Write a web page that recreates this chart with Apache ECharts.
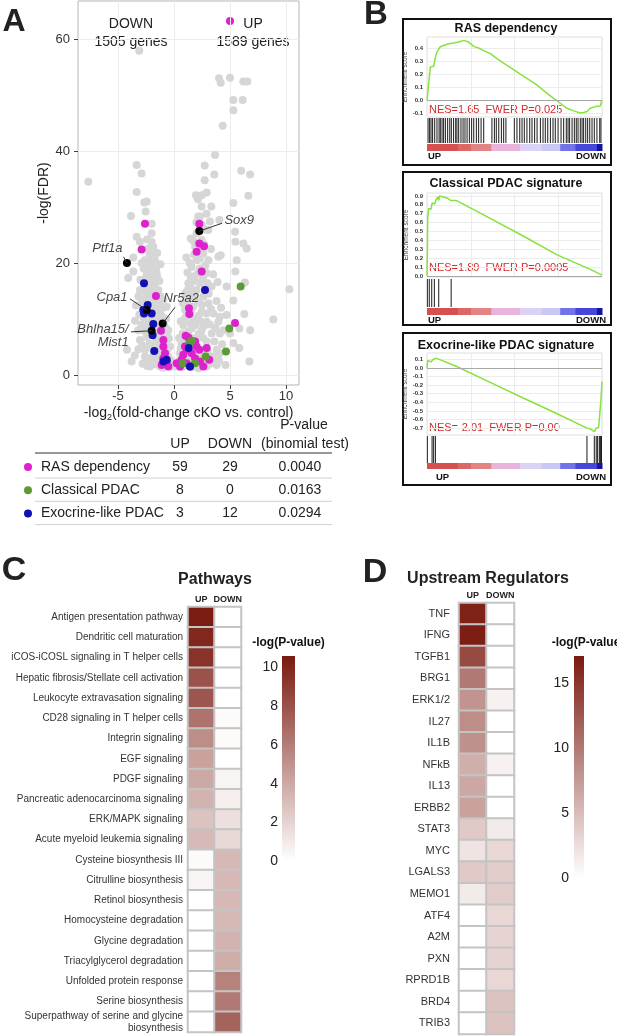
<!DOCTYPE html>
<html>
<head>
<meta charset="utf-8">
<script src="https://cdn.jsdelivr.net/npm/echarts@6/dist/echarts.min.js"></script>
<style>
html, body { margin: 0; padding: 0; background: #fff; }
#fig { width: 617px; height: 1036px; }
</style>
</head>
<body>
<div id="fig"></div>
<script>
var FONT = 'Arial, "Liberation Sans", sans-serif';

// ---------- A: volcano (x = -log2 fold change, y = -log FDR) ----------
var grayPts = [
  [-3.1,57.9],[4.02,53.0],[4.17,52.2],[5.0,53.1],[6.19,52.4],[6.55,52.4],[5.3,49.1],[6.13,49.1],[5.3,47.3],[4.35,44.5],
  [3.66,39.3],[2.74,37.4],[3.6,35.8],[6.0,36.5],[6.79,35.8],[2.74,34.8],[2.92,32.6],[2.47,32.1],[2.14,31.4],[3.33,30.1],
  [2.47,30.1],[5.3,30.7],[6.64,32.0],[5.45,25.6],[3.21,27.4],[2.32,28.3],[3.07,25.9],[4.05,27.7],[6.49,22.6],[5.48,23.8],
  [6.19,23.5],[3.96,21.1],[4.17,21.4],[5.6,20.5],[5.48,18.5],[4.7,15.8],[6.34,16.5],[5.3,13.3],[6.28,10.9],[4.7,10.7],
  [4.1,10.4],[3.96,9.5],[4.4,8.0],[4.1,7.4],[5.0,7.4],[5.83,8.3],[5.83,4.8],[6.73,2.4],[5.3,5.7],[10.3,15.3],[8.87,9.9],[6.8,8.0],
  [-7.65,34.5],[-3.33,37.5],[-2.89,36.0],[-3.33,32.7],[-2.65,30.8],[-2.44,31.0],[-2.53,29.2],[-3.84,28.4],[-1.99,27.0],
  [-3.33,24.7],[-3.04,23.8],[-3.63,21.0],[-4.08,17.3],[-3.63,18.5],[-1.99,25.3],[-1.85,22.9],[-3.48,9.7],[-3.18,4.6],
  [-2.44,3.0],[-1.99,5.4],[-2.44,8.9],
  [-2.29,22.6],[-2.14,21.1],[-1.99,19.9],[-2.29,19.3],[-1.85,18.8],[-2.44,17.9],[-1.99,17.3],[-1.70,16.4],[-2.59,15.8],
  [-2.14,14.9],[-1.55,14.6],[-3.04,15.2],[-2.44,13.7],[-1.85,13.1],[-1.40,12.5],[-2.74,11.6],[-1.25,11.0],[-1.55,9.8],
  [-0.95,9.8],[-1.99,8.3],[-1.25,8.0],[-0.65,7.4],[-2.44,6.8],[-1.55,6.25],[-0.80,5.65],[-1.85,4.5],[-1.10,3.9],[-0.51,3.3],
  [-1.55,2.7],[-0.80,2.1],[-0.21,1.5],[-1.25,1.5],[-2.59,4.5],[-3.04,6.25],[-2.29,9.8],[-1.85,11.6],[-2.74,13.4],[-3.18,14.0],
  [-1.55,18.2],[-1.70,20.5],[-2.2,21.7],[-1.4,15.2],[-0.95,13.4],[-0.65,12.2],[-0.51,8.0],[-0.36,5.1],[-2.14,1.5],[-4.2,4.5],[-3.78,2.4],
  [-2.6,20.5],[-2.0,21.5],[-1.6,19.0],[-2.3,16.8],[-1.8,15.5],[-2.0,13.8],[-1.6,12.0],[-2.3,12.3],[-1.1,10.5],[-1.8,10.0],
  [-1.3,9.0],[-2.1,9.2],[-0.8,8.6],[-1.7,7.3],[-1.0,6.9],[-2.2,5.6],[-1.3,5.2],[-0.6,4.6],[-1.6,3.6],[-0.9,3.0],[-2.0,2.4],
  [-1.0,1.3],[-0.5,2.0],[-2.8,2.0],[-3.5,3.5],[-2.9,9.0],[-2.6,7.8],[-3.4,12.4],[-3.0,17.0],[-2.7,19.0],[-2.4,24.2],[-2.0,23.8],[-1.5,21.8],
  [-2.5,14.5],[-1.9,14.4],[-2.2,10.8],[-1.4,13.6],[-1.2,6.0],[-0.7,3.6],[-1.4,4.4],[-2.7,10.2],[-1.9,3.3],[-0.3,2.6],
  [-1.7,1.9],[-2.4,1.6],[-3.2,8.0],[-2.85,5.3],[-2.0,18.4],[-2.6,17.0],[-2.9,20.0],[-1.3,16.8],[-1.2,19.8],
  [-2.1,16.1],[-1.5,17.5],[-2.4,19.9],[-1.2,14.0],[-1.0,12.0],[-0.7,10.0],[-0.45,6.5],[-2.6,3.3],[-2.9,13.0],[-3.1,10.8],
  [2.17,28.3],[2.32,26.5],[2.02,25.3],[2.47,24.1],[1.88,22.9],[2.62,21.7],[2.02,20.5],[1.58,19.3],[2.32,19.0],[2.92,18.2],
  [1.73,17.6],[1.28,16.4],[2.32,16.4],[3.36,15.8],[2.02,15.2],[1.58,14.6],[2.62,14.0],[1.13,13.4],[2.17,13.1],[3.07,12.8],
  [1.73,12.2],[0.98,11.6],[2.47,11.3],[3.51,11.0],[1.43,10.4],[2.02,9.8],[2.92,9.5],[0.83,8.9],[1.58,8.3],[2.47,8.0],
  [3.36,7.4],[1.13,7.1],[2.02,6.5],[2.92,6.0],[0.68,5.65],[1.58,5.1],[2.62,4.5],[3.81,4.5],[0.54,3.9],[1.28,3.6],[2.32,3.0],
  [3.36,2.7],[0.39,2.1],[1.13,1.8],[2.02,1.5],[2.92,1.5],[3.81,1.8],[0.24,1.5],[3.51,3.3],[4.1,3.9],[2.77,15.2],[3.07,20.5],
  [1.43,15.8],[0.77,7.4],[1.96,32.1],
  [1.0,10.2],[1.3,12.7],[1.8,13.9],[2.5,12.5],[1.5,11.3],[2.2,10.6],[1.9,8.9],[2.7,8.8],[1.3,7.8],[2.2,7.3],[1.6,6.6],
  [0.9,6.2],[2.6,6.6],[1.9,5.8],[1.2,4.7],[2.2,4.4],[3.0,4.2],[1.7,3.5],[2.7,3.4],[0.8,3.0],[1.5,2.5],[2.5,2.3],[3.2,2.0],
  [1.6,1.4],[0.7,1.4],[1.0,14.6],[1.9,16.8],[2.6,17.3],[1.2,18.3],[2.3,20.8],[1.8,21.5],[2.7,23.3],[1.5,24.4],[2.0,27.3],
  [2.8,26.0],[3.3,22.5],[3.5,18.0],[3.2,9.0],[3.6,6.0],[4.3,5.5],[4.0,2.6],[4.6,1.8],
  [0.5,2.6],[1.0,2.9],[1.8,2.2],[2.2,1.2],[2.9,2.8],[1.4,9.4],[2.4,9.5],[0.6,4.8],[1.7,10.0],[2.9,11.0],[3.1,14.5],
  [1.5,17.2],[2.1,18.1],[1.1,21.0],[2.5,26.8],[2.9,28.8],[3.8,13.2],[3.9,16.6],
  [1.4,20.0],[1.7,24.0],[2.4,22.6],[2.8,19.6],[3.0,16.4],[1.2,15.2],[0.8,12.8],[0.6,9.6],[3.3,11.8],[3.7,8.4],[0.45,6.6],[4.2,12.0]
];
var rasPts = [
  [-2.59,27.0],[-2.89,22.4],[-1.61,14.1],[-1.16,7.9],[-0.95,6.25],[-0.95,5.1],[-0.80,3.9],[-0.95,3.0],[-0.65,2.4],[-0.51,1.5],
  [-1.10,1.8],[2.26,27.0],[2.26,23.5],[2.68,23.0],[2.02,22.0],[2.47,18.5],[1.34,11.9],[1.37,10.9],[1.04,7.0],[1.28,6.7],
  [2.02,5.1],[2.26,4.5],[2.92,4.8],[3.15,2.7],[5.45,9.3],[1.13,4.5],[0.83,3.6],[0.68,2.7],[1.13,2.1],[1.58,3.9],[1.88,3.0],
  [2.32,2.4],[0.54,1.5],[1.43,1.5],[2.62,1.5],[0.24,2.1],[0.98,5.1],[1.88,6.0]
];
var classicalPts = [[5.95,15.8],[4.94,8.3],[4.64,4.2],[2.83,3.3],[1.88,2.1],[0.77,2.1],[1.37,5.65],[1.58,6.1]];
var exocrinePts = [
  [-2.68,16.4],[-2.35,12.5],[-2.68,11.0],[-1.99,11.0],[-1.85,9.1],[-1.91,7.1],[-1.76,4.3],[-0.95,2.4],[-0.65,2.7],
  [2.77,15.2],[1.43,1.5],[1.31,4.8],[-2.74,11.6]
];
var markedGenes = ['Ptf1a', 'Cpa1', 'Nr5a2', 'Bhlha15/\nMist1', 'Sox9'];
var markedPts = [[-4.2,20.0],[-2.44,11.6],[-1.01,9.2],[-1.99,7.9],[2.26,25.7]];
var markedLeaderFrom = [[-4.5,21.1],[-3.93,13.6],[0.09,12.1],[-3.84,7.7],[4.29,27.1]];
var markedLabelAt = [[-4.55,22.7],[-4.1,13.9],[-0.98,13.75],[-4.0,7.0],[4.46,27.7]];
var markedLabelSide = ['left', 'left', 'right', 'left', 'right'];
var volcanoXTicks = [-5, 0, 5, 10];
var volcanoYTicks = [0, 20, 40, 60];

// table under the volcano
var tableSets = ['RAS dependency', 'Classical PDAC', 'Exocrine-like PDAC'];
var tableUp = [59, 8, 3];
var tableDown = [29, 0, 12];
var tablePval = ['0.0040', '0.0163', '0.0294'];
var setColors = ['#dd22cc', '#5e9a34', '#1212b4'];

// ---------- B: GSEA running enrichment scores (x = rank percentile) ----------
var rasCurve = [[0,0],[0.95,0.127],[1.9,0.255],[2.9,0.267],[3.8,0.26],[4.8,0.33],[5.7,0.37],[7.6,0.41],[9.5,0.42],
  [12.4,0.433],[15.2,0.438],[18.1,0.446],[21,0.459],[23.8,0.446],[26.7,0.413],[29.5,0.4],[32.4,0.38],[36.2,0.357],
  [40,0.318],[45.7,0.267],[51.4,0.217],[57.1,0.166],[62.9,0.115],[68.6,0.051],[72.4,0.013],[76.2,-0.025],[80,-0.064],
  [83.8,-0.084],[87.6,-0.1],[89.5,-0.097],[91.4,-0.089],[93.3,-0.064],[96.2,-0.051],[99,-0.046],[100,0]];
var rasHits = [0.6,1.5,2.3,3.2,4.4,5.7,6.9,7.6,8.6,9.5,10.5,11.8,13,13.9,15.2,16.4,17.1,18.1,19.4,20.6,21.7,22.9,
  24.2,25.5,26.7,28.2,29.5,30.9,32.4,37.1,38.5,39.6,41,42.5,43.8,45.1,49.9,51.4,53,54.3,55.6,57.1,58.7,60,61.5,62.9,
  64.8,66.3,67.6,69,70.5,72,73.3,74.9,76.6,78.1,79.6,80.6,81.5,82.9,84.2,85.3,86.3,87.6,88.6,89.5,90.7,91.8,93,94.3,
  95.6,97.1,98.7,99.4];
var classicalCurve = [[0,0],[0.2,0.255],[0.4,0.65],[1,0.76],[1.7,0.78],[2.3,0.75],[2.9,0.82],[3.6,0.835],[4.4,0.81],
  [5.2,0.86],[6.1,0.885],[6.7,0.85],[7.1,0.9],[9,0.89],[11.9,0.874],[13.4,0.85],[14,0.866],[16.7,0.85],[35.8,0.65],
  [55,0.45],[74.1,0.24],[93.3,0.075],[100,0.01]];
var classicalHits = [0.2, 1.3, 2.7, 4.2, 6.7, 13.8];
var exoCurve = [[0,0],[0.4,0.088],[1.3,0.08],[2.3,0.07],[2.9,0.072],[3.3,0.096],[4.2,0.085],[5.2,0.115],[5.6,0.127],
  [16.7,0.02],[35.8,-0.165],[55,-0.35],[74.1,-0.53],[91.4,-0.70],[93.3,-0.71],[94.3,-0.70],[95.6,-0.74],[96.7,-0.70],
  [98.1,-0.69],[99,-0.70],[99.4,-0.37],[100,-0.16]];
var exoHits = [0.2, 2.9, 3.8, 4.8, 91.4, 95.6, 96.7, 97.5, 98.5, 99.2, 99.7];
var rankBand = [[0,17.6,0],[17.6,25.3,1],[25.3,36.8,2],[36.8,53.1,3],[53.1,65.5,4],[65.5,76.1,5],[76.1,84.7,6],[84.7,97.1,7],[97.1,100,8]];
var bandColors = ['#d65050', '#dc6767', '#e08484', '#e8b4dc', '#dcd2f4', '#c8c8f4', '#7272ea', '#4646da', '#1414a0'];
var gseaTitles = ['RAS dependency', 'Classical PDAC signature', 'Exocrine-like PDAC signature'];
var gseaNes = ['1.65', '1.89', '-2.01'];
var gseaFwer = ['0.025', '0.0005', '0.00'];
var gseaTicks = [[-0.1,0,0.1,0.2,0.3,0.4], [0,0.1,0.2,0.3,0.4,0.5,0.6,0.7,0.8,0.9], [-0.7,-0.6,-0.5,-0.4,-0.3,-0.2,-0.1,0,0.1]];

// ---------- C / D: -log(P) heatmaps ----------
var pathways = ['Antigen presentation pathway', 'Dendritic cell maturation', 'iCOS-iCOSL signaling in T helper cells',
  'Hepatic fibrosis/Stellate cell activation', 'Leukocyte extravasation signaling', 'CD28 signaling in T helper cells',
  'Integrin signaling', 'EGF signaling', 'PDGF signaling', 'Pancreatic adenocarcinoma signaling', 'ERK/MAPK signaling',
  'Acute myeloid leukemia signaling', 'Cysteine biosynthesis III', 'Citrulline biosynthesis', 'Retinol biosynthesis',
  'Homocysteine degradation', 'Glycine degradation', 'Triacylglycerol degradation', 'Unfolded protein response',
  'Serine biosynthesis', 'Superpathway of serine and glycine\nbiosynthesis'];
var pathwayUp =   [10.5, 10.0, 9.5, 8.0, 7.8, 6.5, 5.3, 4.3, 4.0, 3.5, 2.8, 3.2, 0.2, 0.5, 0, 0, 0, 0, 0, 0, 0];
var pathwayDown = [0, 0, 0, 0, 0, 0.2, 0.2, 0, 0.5, 0.8, 1.5, 1.8, 3.3, 3.3, 3.3, 3.3, 3.5, 3.8, 5.8, 6.2, 7.2];
var pathwayTicks = [0, 2, 4, 6, 8, 10];
var regulators = ['TNF', 'IFNG', 'TGFB1', 'BRG1', 'ERK1/2', 'IL27', 'IL1B', 'NFkB', 'IL13', 'ERBB2', 'STAT3', 'MYC',
  'LGALS3', 'MEMO1', 'ATF4', 'A2M', 'PXN', 'RPRD1B', 'BRD4', 'TRIB3'];
var regulatorUp =   [16.5, 16.8, 13.5, 10.0, 8.0, 8.5, 8.2, 6.0, 6.5, 7.0, 4.0, 2.0, 4.0, 1.5, 0, 0, 0, 0, 0, 0];
var regulatorDown = [0, 0, 0, 0, 1.0, 0, 0, 1.0, 0, 0, 1.5, 3.0, 3.8, 3.8, 3.0, 3.2, 3.3, 3.0, 4.5, 4.5];
var regulatorTicks = [0, 5, 10, 15];
var heatCols = ['UP', 'DOWN'];

var HEAT_LO = '#ffffff', HEAT_HI = '#7a1a10';

// ---------- layout ----------
var grids = [], xAxes = [], yAxes = [], series = [], graphics = [];

function txt(x, y, s, o) {
  o = o || {};
  var el = {
    type: 'text', x: x, y: y, silent: true,
    style: {
      text: s, fontFamily: FONT, fontSize: o.size || 12, fontWeight: o.weight || 'normal',
      fontStyle: o.italic ? 'italic' : 'normal', fill: o.color || '#222',
      align: o.align || 'center', verticalAlign: 'middle', rich: o.rich
    }
  };
  graphics.push(el);
  return el;
}
var italicRich = { i: { fontStyle: 'italic' } };

// volcano grid 0
grids.push({ left: 78, top: 1, width: 221, height: 384, show: true, borderColor: '#b5b5b5', borderWidth: 1, backgroundColor: '#fff' });
xAxes.push({
  type: 'value', gridIndex: 0, min: -8.57, max: 11.16,
  axisLine: { show: false, onZero: false },
  axisTick: { show: true, customValues: volcanoXTicks, length: 4, lineStyle: { color: '#444' } },
  axisLabel: { customValues: volcanoXTicks, fontSize: 13, color: '#333', margin: 5, fontFamily: FONT },
  splitLine: { show: true, lineStyle: { color: '#ececec' } },
  name: '-log{s|2}(fold-change cKO vs. control)', nameLocation: 'middle', nameGap: 16,
  nameTextStyle: { fontSize: 14, color: '#222', fontFamily: FONT, lineHeight: 18,
    rich: { s: { fontSize: 9, verticalAlign: 'bottom', lineHeight: 14 } } }
});
yAxes.push({
  type: 'value', gridIndex: 0, min: -1.79, max: 66.8,
  axisLine: { show: false, onZero: false },
  axisTick: { show: true, customValues: volcanoYTicks, length: 4, lineStyle: { color: '#444' } },
  axisLabel: { customValues: volcanoYTicks, fontSize: 13, color: '#333', margin: 8, fontFamily: FONT },
  splitLine: { show: true, lineStyle: { color: '#ececec' } },
  name: '-log(FDR)', nameLocation: 'middle', nameGap: 21, nameRotate: 90,
  nameTextStyle: { fontSize: 14, color: '#222', fontFamily: FONT }
});
function dots(data, color, z) {
  series.push({ type: 'scatter', xAxisIndex: 0, yAxisIndex: 0, data: data, symbolSize: 8, silent: true, z: z,
    itemStyle: { color: color, opacity: 1 } });
}
dots(grayPts, '#d6d6d6', 2);
dots(rasPts, setColors[0], 3);
dots(classicalPts, setColors[1], 3);
dots(exocrinePts, setColors[2], 3);
dots(markedPts, '#000000', 4);
series.push({
  type: 'lines', coordinateSystem: 'cartesian2d', xAxisIndex: 0, yAxisIndex: 0, silent: true, z: 5,
  lineStyle: { color: '#333', width: 1, opacity: 1 },
  data: markedPts.map(function (p, i) { return { coords: [markedLeaderFrom[i], p] }; })
});
series.push({
  type: 'scatter', xAxisIndex: 0, yAxisIndex: 0, silent: true, z: 6, symbolSize: 1,
  itemStyle: { color: 'rgba(0,0,0,0)' },
  label: { show: true, formatter: '{b}', fontSize: 13, fontStyle: 'italic', color: '#111', fontFamily: FONT, distance: 0, lineHeight: 13 },
  data: markedLabelAt.map(function (p, i) {
    return { name: markedGenes[i], value: p, label: { position: markedLabelSide[i] } };
  })
});

// volcano header text
txt(131, 24, 'DOWN', { size: 14 });
txt(131, 42, '1505 genes', { size: 14 });
graphics.push({ type: 'circle', silent: true, shape: { cx: 230, cy: 21, r: 4 }, style: { fill: setColors[0] } });
txt(253, 24, 'UP', { size: 14 });
txt(253, 42, '1589 genes', { size: 14 });

// table
txt(304, 425, '{i|P}-value', { size: 14, rich: italicRich });
txt(180, 444, 'UP', { size: 14 });
txt(230, 444, 'DOWN', { size: 14 });
txt(305, 444, '(binomial test)', { size: 14 });
graphics.push({ type: 'line', silent: true, shape: { x1: 35, y1: 453, x2: 332, y2: 453 }, style: { stroke: '#333', lineWidth: 1.2 } });
tableSets.forEach(function (name, i) {
  var y = 467 + i * 23.3;
  graphics.push({ type: 'circle', silent: true, shape: { cx: 28, cy: y, r: 4 }, style: { fill: setColors[i] } });
  txt(41, y, name, { size: 14, align: 'left' });
  txt(180, y, String(tableUp[i]), { size: 14 });
  txt(230, y, String(tableDown[i]), { size: 14 });
  txt(300, y, tablePval[i], { size: 14 });
  graphics.push({ type: 'line', silent: true, shape: { x1: 35, y1: y + 11, x2: 332, y2: y + 11 }, style: { stroke: '#d0d0d0', lineWidth: 1 } });
});

// GSEA panels
var gseaLayout = [
  { box: [403, 19, 208, 146], title: 29, es: [37, 80], yr: [-0.131, 0.485], code: [118, 25], band: [144, 7], lab: 156, nes: 110 },
  { box: [403, 172, 208, 153], title: 184, es: [193, 84], yr: [-0.011, 0.933], code: [279, 28], band: [308, 7], lab: 320, nes: 268 },
  { box: [403, 333, 208, 152], title: 346, es: [353, 82], yr: [-0.78, 0.174], code: [436, 27], band: [463, 6], lab: 477, nes: 428 }
];
var gseaCurves = [rasCurve, classicalCurve, exoCurve];
var gseaHits = [rasHits, classicalHits, exoHits];
var GX = 427, GW = 175;

gseaLayout.forEach(function (L, p) {
  var gi = grids.length;
  // enrichment score
  grids.push({ left: GX, width: GW, top: L.es[0], height: L.es[1], show: true, borderColor: '#dedede', borderWidth: 1 });
  xAxes.push({ type: 'value', gridIndex: gi, min: 0, max: 100, interval: 25,
    axisLine: { show: false }, axisTick: { show: false }, axisLabel: { show: false },
    splitLine: { show: true, lineStyle: { color: '#ececec' } } });
  yAxes.push({ type: 'value', gridIndex: gi, min: L.yr[0], max: L.yr[1],
    axisLine: { show: false, onZero: false }, axisTick: { show: false, customValues: gseaTicks[p] },
    axisLabel: { customValues: gseaTicks[p], fontSize: 6, fontWeight: 'bold', color: '#333', margin: 4, fontFamily: FONT,
      formatter: function (v) { return v.toFixed(1); } },
    splitLine: { show: true, lineStyle: { color: '#ececec' } },
    name: 'Enrichment score', nameLocation: 'middle', nameGap: 17, nameRotate: 90,
    nameTextStyle: { fontSize: 6.5, color: '#444', fontFamily: FONT } });
  series.push({ type: 'line', xAxisIndex: gi, yAxisIndex: gi, data: gseaCurves[p], showSymbol: false, silent: true, z: 3,
    lineStyle: { color: '#86e33c', width: 1.5 },
    markLine: { silent: true, symbol: 'none', label: { show: false }, lineStyle: { color: '#a8a8a8', width: 1, type: 'solid' },
      data: [{ yAxis: 0 }] } });
  // barcode of gene-set hits
  grids.push({ left: GX, width: GW, top: L.code[0], height: L.code[1] });
  xAxes.push({ type: 'value', gridIndex: gi + 1, min: 0, max: 100, show: false });
  yAxes.push({ type: 'value', gridIndex: gi + 1, min: 0, max: 1, show: false });
  series.push({ type: 'scatter', xAxisIndex: gi + 1, yAxisIndex: gi + 1, silent: true, symbol: 'rect',
    symbolSize: [1, L.code[1]], itemStyle: { color: '#1a1a1a', opacity: 1 },
    data: gseaHits[p].map(function (h) { return [h, 0.5]; }) });
  // ranked-list colour band
  grids.push({ left: GX, width: GW, top: L.band[0], height: L.band[1] });
  xAxes.push({ type: 'value', gridIndex: gi + 2, min: 0, max: 100, show: false });
  yAxes.push({ type: 'value', gridIndex: gi + 2, min: 0, max: 1, show: false });
  series.push({ type: 'custom', xAxisIndex: gi + 2, yAxisIndex: gi + 2, silent: true, data: rankBand,
    renderItem: function (params, api) {
      var s = api.coord([api.value(0), 0]);
      var e = api.coord([api.value(1), 1]);
      return { type: 'rect', shape: { x: s[0], y: e[1], width: e[0] - s[0] + 0.5, height: s[1] - e[1] },
        style: { fill: bandColors[api.value(2)] } };
    } });

  graphics.push({ type: 'rect', silent: true, shape: { x: L.box[0], y: L.box[1], width: L.box[2], height: L.box[3] },
    style: { fill: 'none', stroke: '#111', lineWidth: 2 } });
  txt(506, L.title, gseaTitles[p], { size: 12.5, weight: 'bold', color: '#111' });
  txt(429, L.nes, 'NES=' + gseaNes[p] + '  FWER {i|P}=' + gseaFwer[p], { size: 11, align: 'left', color: '#d42a2a', rich: italicRich });
  txt(p === 2 ? 436 : 428, L.lab, 'UP', { size: 9.5, weight: 'bold', align: 'left', color: '#111' });
  txt(606, L.lab, 'DOWN', { size: 9.5, weight: 'bold', align: 'right', color: '#111' });
});

// heatmaps + colour bars
function heatPanel(rows, up, down, ticks, maxV, H, C, title, titleX, titleY) {
  var gi = grids.length;
  grids.push({ left: H[0], top: H[1], width: H[2], height: H[3] });
  xAxes.push({ type: 'category', gridIndex: gi, data: heatCols, position: 'top',
    axisLine: { show: false }, axisTick: { show: false },
    axisLabel: { interval: 0, fontSize: 9, fontWeight: 'bold', color: '#222', margin: 3, fontFamily: FONT } });
  yAxes.push({ type: 'category', gridIndex: gi, data: rows, inverse: true,
    axisLine: { show: false }, axisTick: { show: false },
    axisLabel: { interval: 0, fontSize: H[4], color: '#333', margin: H[5], fontFamily: FONT, lineHeight: 12 } });
  var cells = [];
  rows.forEach(function (r, i) { cells.push([0, i, up[i]]); cells.push([1, i, down[i]]); });
  var si = series.length;
  series.push({ type: 'heatmap', xAxisIndex: gi, yAxisIndex: gi, data: cells, silent: true,
    itemStyle: { borderColor: '#c4c4c4', borderWidth: 2 } });
  // colour bar
  grids.push({ left: C[0], top: C[1], width: C[2], height: C[3] });
  xAxes.push({ type: 'category', gridIndex: gi + 1, data: [''], show: false });
  yAxes.push({ type: 'value', gridIndex: gi + 1, min: 0, max: maxV,
    axisLine: { show: false }, axisTick: { show: false, customValues: ticks }, splitLine: { show: false },
    axisLabel: { customValues: ticks, fontSize: 14, color: '#222', margin: C[4], fontFamily: FONT } });
  series.push({ type: 'bar', xAxisIndex: gi + 1, yAxisIndex: gi + 1, data: [maxV], barWidth: '100%', silent: true,
    itemStyle: { color: new echarts.graphic.LinearGradient(0, 0, 0, 1, [{ offset: 0, color: HEAT_HI }, { offset: 1, color: HEAT_LO }]) } });
  txt(C[0] + C[2] / 2 + C[5], C[1] - 13, '-log({i|P}-value)', { size: 12, weight: 'bold', color: '#111', rich: italicRich });
  txt(titleX, titleY, title, { size: 16, weight: 'bold', color: '#222' });
  return { type: 'continuous', show: false, min: 0, max: maxV, seriesIndex: si, inRange: { color: [HEAT_LO, HEAT_HI] } };
}
var vmC = heatPanel(pathways, pathwayUp, pathwayDown, pathwayTicks, 10.6,
  [188, 607, 53, 425, 10, 5], [282, 656, 13, 205, 4, 0], 'Pathways', 215, 580);
var vmD = heatPanel(regulators, regulatorUp, regulatorDown, regulatorTicks, 17.1,
  [459, 603, 55, 431, 11, 9], [574, 656, 10, 222, 5, 9], 'Upstream Regulators', 488, 579);

// panel letters
txt(14, 22, 'A', { size: 32, weight: 'bold', color: '#222' });
txt(376, 15, 'B', { size: 33, weight: 'bold', color: '#222' });
txt(14, 571, 'C', { size: 34, weight: 'bold', color: '#222' });
txt(375, 573, 'D', { size: 34, weight: 'bold', color: '#222' });

var chart = echarts.init(document.getElementById('fig'));
chart.setOption({
  backgroundColor: '#ffffff',
  animation: false,
  textStyle: { fontFamily: FONT },
  grid: grids,
  xAxis: xAxes,
  yAxis: yAxes,
  visualMap: [vmC, vmD],
  series: series,
  graphic: { elements: graphics }
});
</script>
</body>
</html>
